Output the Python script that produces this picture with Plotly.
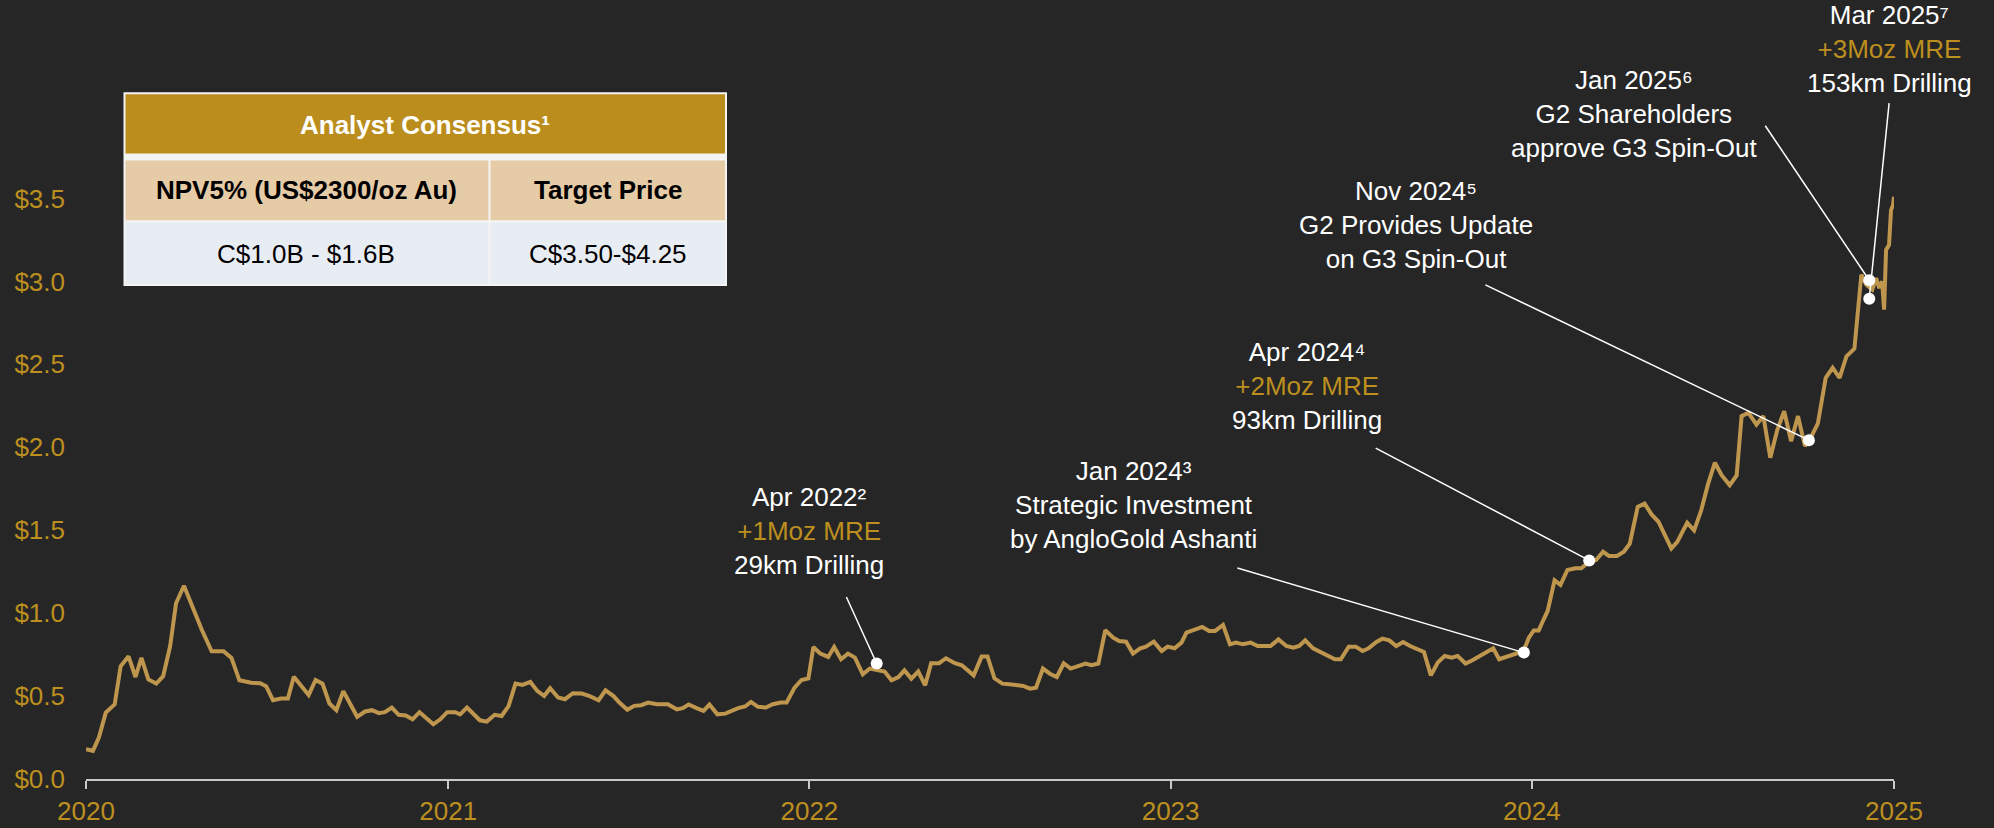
import plotly.graph_objects as go

# ---------------- data ----------------
dates = [
    "2020-01-01","2020-01-08","2020-01-14","2020-01-21","2020-01-30","2020-02-05","2020-02-13","2020-02-20",
    "2020-02-26","2020-03-04","2020-03-12","2020-03-19","2020-03-26","2020-04-01","2020-04-09","2020-04-17",
    "2020-04-27","2020-05-07","2020-05-19","2020-05-27","2020-06-04","2020-06-16","2020-06-25","2020-07-01",
    "2020-07-08","2020-07-16","2020-07-23","2020-07-29","2020-08-06","2020-08-13","2020-08-20","2020-08-27",
    "2020-09-03","2020-09-10","2020-09-17","2020-09-24","2020-10-01","2020-10-09","2020-10-16","2020-10-23",
    "2020-10-29","2020-11-05","2020-11-12","2020-11-19","2020-11-26","2020-12-03","2020-12-10","2020-12-17",
    "2020-12-24","2020-12-31","2021-01-08","2021-01-13","2021-01-20","2021-01-28","2021-02-02","2021-02-09",
    "2021-02-17","2021-02-24","2021-03-03","2021-03-10","2021-03-17","2021-03-25","2021-04-01","2021-04-08",
    "2021-04-14","2021-04-22","2021-04-29","2021-05-07","2021-05-16","2021-05-24","2021-06-02","2021-06-09",
    "2021-06-17","2021-06-23","2021-07-01","2021-07-08","2021-07-15","2021-07-22","2021-07-31","2021-08-11",
    "2021-08-20","2021-08-26","2021-09-01","2021-09-09","2021-09-16","2021-09-22","2021-09-30","2021-10-08",
    "2021-10-15","2021-10-21","2021-10-28","2021-11-03","2021-11-10","2021-11-18","2021-11-25","2021-12-03",
    "2021-12-09","2021-12-17","2021-12-24","2021-12-31","2022-01-05","2022-01-12","2022-01-20","2022-01-26",
    "2022-02-02","2022-02-09","2022-02-16","2022-02-24","2022-03-03","2022-03-10","2022-03-18","2022-03-25",
    "2022-04-01","2022-04-07","2022-04-14","2022-04-21","2022-04-28","2022-05-04","2022-05-12","2022-05-19",
    "2022-05-28","2022-06-04","2022-06-10","2022-06-16","2022-06-24","2022-06-30","2022-07-07","2022-07-15",
    "2022-07-22","2022-07-29","2022-08-05","2022-08-12","2022-08-18","2022-08-25","2022-09-01","2022-09-08",
    "2022-09-15","2022-09-22","2022-09-29","2022-10-07","2022-10-13","2022-10-20","2022-10-27","2022-11-04",
    "2022-11-10","2022-11-17","2022-11-24","2022-12-01","2022-12-07","2022-12-15","2022-12-23","2022-12-29",
    "2023-01-05","2023-01-12","2023-01-17","2023-01-25","2023-02-02","2023-02-09","2023-02-15","2023-02-23",
    "2023-03-02","2023-03-08","2023-03-15","2023-03-23","2023-03-30","2023-04-12","2023-04-20","2023-04-28",
    "2023-05-05","2023-05-11","2023-05-17","2023-05-25","2023-06-02","2023-06-09","2023-06-16","2023-06-22",
    "2023-06-30","2023-07-07","2023-07-14","2023-07-20","2023-07-28","2023-08-03","2023-08-10","2023-08-17",
    "2023-08-24","2023-08-31","2023-09-07","2023-09-14","2023-09-21","2023-09-28","2023-10-05","2023-10-12",
    "2023-10-18","2023-10-26","2023-11-02","2023-11-09","2023-11-16","2023-11-23","2023-11-29","2023-12-06",
    "2023-12-13","2023-12-19","2023-12-25","2023-12-29","2024-01-03","2024-01-08","2024-01-13","2024-01-17",
    "2024-01-24","2024-01-30","2024-02-06","2024-02-14","2024-02-20","2024-02-28","2024-03-06","2024-03-13",
    "2024-03-19","2024-03-27","2024-04-03","2024-04-09","2024-04-17","2024-04-24","2024-05-01","2024-05-08",
    "2024-05-15","2024-05-21","2024-05-27","2024-06-06","2024-06-13","2024-06-20","2024-06-27","2024-07-04",
    "2024-07-11","2024-07-19","2024-07-26","2024-07-31","2024-08-07","2024-08-15","2024-08-22","2024-08-29",
    "2024-09-05","2024-09-12","2024-09-19","2024-09-26","2024-10-03","2024-10-08","2024-10-16","2024-10-24",
    "2024-10-31","2024-11-07","2024-11-14","2024-11-22","2024-11-29","2024-12-04","2024-12-10","2024-12-14",
    "2024-12-17","2024-12-20","2024-12-22","2024-12-24","2024-12-27","2024-12-29","2024-12-31","2025-01-01",
]
prices = [
    0.18,0.17,0.25,0.40,0.45,0.68,0.74,0.615,
    0.73,0.60,0.575,0.62,0.80,1.06,1.165,1.04,
    0.90,0.77,0.77,0.73,0.595,0.58,0.578,0.56,
    0.475,0.485,0.485,0.617,0.557,0.507,0.597,0.575,
    0.455,0.415,0.53,0.447,0.375,0.407,0.415,0.397,
    0.403,0.431,0.387,0.383,0.36,0.403,0.365,0.33,
    0.36,0.403,0.403,0.39,0.431,0.387,0.354,0.346,
    0.387,0.38,0.44,0.575,0.567,0.585,0.531,0.50,
    0.547,0.491,0.481,0.517,0.515,0.50,0.475,0.535,
    0.50,0.461,0.417,0.441,0.445,0.461,0.451,0.451,
    0.42,0.427,0.449,0.427,0.411,0.449,0.39,0.394,
    0.415,0.427,0.437,0.465,0.435,0.431,0.451,0.461,
    0.461,0.551,0.597,0.607,0.796,0.756,0.736,0.796,
    0.722,0.756,0.732,0.631,0.666,0.66,0.648,0.595,
    0.615,0.655,0.605,0.648,0.565,0.698,0.698,0.728,
    0.698,0.686,0.658,0.625,0.738,0.738,0.607,0.575,
    0.571,0.565,0.561,0.545,0.551,0.666,0.635,0.615,
    0.698,0.666,0.682,0.696,0.686,0.696,0.897,0.852,
    0.832,0.828,0.756,0.786,0.798,0.828,0.772,0.798,
    0.788,0.822,0.883,0.897,0.917,0.893,0.893,0.929,
    0.812,0.822,0.812,0.822,0.802,0.802,0.842,0.802,
    0.792,0.802,0.836,0.788,0.766,0.746,0.722,0.722,
    0.798,0.798,0.772,0.788,0.826,0.846,0.836,0.802,
    0.826,0.802,0.786,0.766,0.625,0.702,0.742,0.732,
    0.742,0.696,0.716,0.738,0.762,0.788,0.722,0.736,
    0.746,0.762,0.792,0.852,0.896,0.896,0.963,1.013,
    1.198,1.17,1.26,1.27,1.27,1.31,1.32,1.37,
    1.345,1.345,1.37,1.419,1.64,1.66,1.595,1.551,
    1.465,1.39,1.43,1.545,1.499,1.616,1.776,1.907,
    1.83,1.772,1.83,2.188,2.208,2.137,2.188,1.937,
    2.104,2.218,2.037,2.188,2.007,2.047,2.142,2.419,
    2.479,2.419,2.549,2.595,3.041,2.98,2.95,3.02,
    2.96,3.00,2.83,3.19,3.22,3.43,3.46,3.51,
]

event_dates = ["2022-03-10", "2023-12-24", "2024-02-28", "2024-10-07", "2024-12-07", "2024-12-07"]
event_values = [0.696, 0.762, 1.318, 2.043, 3.007, 2.896]
event_titles = ["Apr 2022²", "Jan 2024³", "Apr 2024⁴", "Nov 2024⁵", "Jan 2025⁶", "Mar 2025⁷"]
event_highlights = ["+1Moz MRE", "", "+2Moz MRE", "", "", "+3Moz MRE"]
event_details = [
    "29km Drilling",
    "Strategic Investment<br>by AngloGold Ashanti",
    "93km Drilling",
    "G2 Provides Update<br>on G3 Spin-Out",
    "G2 Shareholders<br>approve G3 Spin-Out",
    "153km Drilling",
]

x_tick_dates = ["2020-01-01", "2021-01-01", "2022-01-01", "2023-01-01", "2024-01-01", "2025-01-01"]
x_tick_labels = ["2020", "2021", "2022", "2023", "2024", "2025"]
y_tick_values = [0.0, 0.5, 1.0, 1.5, 2.0, 2.5, 3.0, 3.5]
y_tick_labels = ["$0.0", "$0.5", "$1.0", "$1.5", "$2.0", "$2.5", "$3.0", "$3.5"]

table_title = "Analyst Consensus¹"
table_columns = ["NPV5% (US$2300/oz Au)", "Target Price"]
table_values = ["C$1.0B - $1.6B", "C$3.50-$4.25"]

# ---------------- layout / style ----------------
W, H = 1994, 828
ML, MR, MT, MB = 86, 100, 2, 46
PW, PH = W - ML - MR, H - MT - MB
Y_TOP = PH / 166.5

BG = "#262626"
GOLD_TEXT = "#BC8F1F"
LINE_GOLD = "#BF964E"
FONT = "Liberation Sans, Arial, sans-serif"

# pixel offsets of label centres and arrow tails relative to each event point
label_shift = [(-68, 133), (-390, 148), (-282, 174), (-393, 215), (-235, 166), (20, 250)]
arrow_tail = [(-31, -68), (-288, -85), (-215, -113), (-325, -156), (-105, -156), (20, -197)]


def px(x):
    return (x - ML) / PW


def py(y):
    return (H - MB - y) / PH


fig = go.Figure()
fig.add_trace(go.Scatter(
    x=dates, y=prices, mode="lines",
    line=dict(color=LINE_GOLD, width=4), hoverinfo="skip", showlegend=False,
))
fig.add_trace(go.Scatter(
    x=event_dates, y=event_values, mode="markers",
    marker=dict(color="white", size=12), cliponaxis=False, showlegend=False,
))

annotations = []
for d, v, t, hl, det, (sx, sy), (ax, ay) in zip(event_dates, event_values, event_titles,
                                                   event_highlights, event_details,
                                                   label_shift, arrow_tail):
    txt = t
    if hl:
        txt += f"<br><span style='color:{GOLD_TEXT}'>{hl}</span>"
    txt += "<br>" + det
    annotations.append(dict(
        x=d, y=v, xref="x", yref="y", text=txt, showarrow=False,
        xshift=sx, yshift=sy, xanchor="center", yanchor="middle", align="center",
        font=dict(family=FONT, size=26, color="white"),
    ))
    annotations.append(dict(
        x=d, y=v, xref="x", yref="y", text="", showarrow=True,
        ax=ax, ay=ay, arrowhead=0, arrowwidth=1.5, arrowcolor="white",
    ))

# table
shapes = []
tx0, tx1, ty0, ty1 = 123.5, 727, 92.5, 287
colx = 489.5
shapes.append(dict(type="rect", xref="paper", yref="paper",
                   x0=px(tx0), x1=px(tx1), y0=py(ty1), y1=py(ty0),
                   fillcolor="#F4F4F4", line=dict(width=0), layer="above"))
cells = [
    (tx0 + 2, tx1 - 2, ty0 + 2, 154, "#BB8D1D"),
    (tx0 + 2, colx - 1, 161, 221, "#E6CBA7"),
    (colx + 1, tx1 - 2, 161, 221, "#E6CBA7"),
    (tx0 + 2, colx - 1, 223, ty1 - 2, "#E8ECF3"),
    (colx + 1, tx1 - 2, 223, ty1 - 2, "#E8ECF3"),
]
for x0, x1, y0, y1, c in cells:
    shapes.append(dict(type="rect", xref="paper", yref="paper",
                       x0=px(x0), x1=px(x1), y0=py(y1), y1=py(y0),
                       fillcolor=c, line=dict(width=0), layer="above"))

annotations.append(dict(x=px(425), y=py(125), xref="paper", yref="paper", showarrow=False,
                        text=f"<b>{table_title}</b>", xanchor="center", yanchor="middle",
                        font=dict(family=FONT, size=26, color="white")))
for cx, col, val in zip([306, 608], table_columns, table_values):
    annotations.append(dict(x=px(cx), y=py(191), xref="paper", yref="paper", showarrow=False,
                            text=f"<b>{col}</b>", xanchor="center", yanchor="middle",
                            font=dict(family=FONT, size=26, color="black")))
    annotations.append(dict(x=px(cx), y=py(255), xref="paper", yref="paper", showarrow=False,
                            text=val, xanchor="center", yanchor="middle",
                            font=dict(family=FONT, size=26, color="black")))

fig.update_layout(
    width=W, height=H, autosize=False,
    margin=dict(l=ML, r=MR, t=MT, b=MB, pad=0),
    paper_bgcolor=BG, plot_bgcolor=BG,
    showlegend=False,
    annotations=annotations, shapes=shapes,
    xaxis=dict(
        type="date", range=["2020-01-01", "2025-01-01"],
        tickmode="array", tickvals=x_tick_dates, ticktext=x_tick_labels,
        showgrid=False, zeroline=False,
        showline=True, linecolor="#C8C8C8", linewidth=2,
        ticks="outside", ticklen=8, tickwidth=2, tickcolor="#C8C8C8",
        tickfont=dict(family=FONT, size=26, color=GOLD_TEXT),
    ),
    yaxis=dict(
        range=[0, Y_TOP],
        tickmode="array", tickvals=y_tick_values, ticktext=y_tick_labels,
        showgrid=False, zeroline=False, showline=False, ticks="",
        ticklabelstandoff=20,
        tickfont=dict(family=FONT, size=26, color=GOLD_TEXT),
    ),
)

fig.write_html(
    "out.html",
    config={"displayModeBar": False},
    post_script="document.body.style.margin='0px';document.body.style.padding='0px';"
                "document.body.style.backgroundColor='#262626';"
                "document.body.style.overflow='hidden';",
)
